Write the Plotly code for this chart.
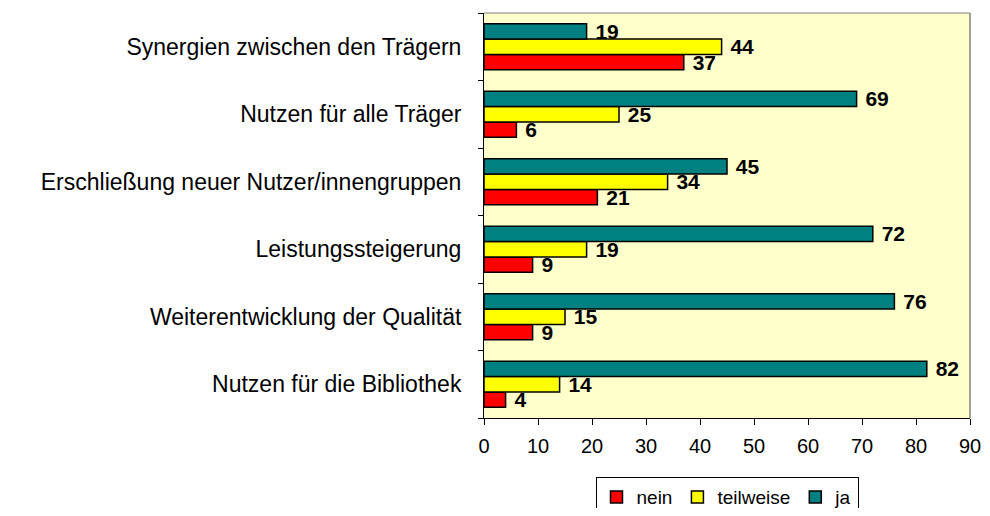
import plotly.graph_objects as go

categories = [
    "Nutzen für die Bibliothek",
    "Weiterentwicklung der Qualität",
    "Leistungssteigerung",
    "Erschließung neuer Nutzer/innengruppen",
    "Nutzen für alle Träger",
    "Synergien zwischen den Trägern",
]
nein = [4, 9, 9, 21, 6, 37]
teilweise = [14, 15, 19, 34, 25, 44]
ja = [82, 76, 72, 45, 69, 19]

series = [("nein", nein, "#FF0000"), ("teilweise", teilweise, "#FFFF00"), ("ja", ja, "#008080")]
x_ticks = list(range(0, 91, 10))

FONT = "Arial, 'Liberation Sans', sans-serif"

fig = go.Figure()
for name, vals, col in series:
    fig.add_trace(go.Bar(
        y=categories, x=vals, name=name, orientation="h",
        marker=dict(color=col, line=dict(color="black", width=1.5)),
        text=vals, texttemplate="\u00a0%{x}", textposition="outside",
        cliponaxis=False, constraintext="none",
        textfont=dict(family=FONT, size=21, color="black", weight="bold"),
    ))

# page body has an 8px margin: figure is 974x500 so that it fills the 990x516 window
fig.update_layout(
    width=974, height=500,
    margin=dict(l=476, r=12, t=5, b=90, autoexpand=False),
    paper_bgcolor="white", plot_bgcolor="#FFFFCC",
    barmode="group", bargap=0.32, bargroupgap=0,
    font=dict(family=FONT, color="black"),
    showlegend=True,
    legend=dict(orientation="h", x=0.5, xanchor="center", y=-0.146, yanchor="top",
                bordercolor="black", borderwidth=1, bgcolor="white",
                font=dict(size=19, family=FONT), traceorder="normal", itemwidth=30),
    xaxis=dict(range=[0, 90], tickvals=x_ticks, showgrid=False, zeroline=False,
               showline=True, linecolor="black", linewidth=1,
               ticks="outside", ticklen=6, tickcolor="black", ticklabelstandoff=4,
               tickfont=dict(size=20, family=FONT)),
    yaxis=dict(showgrid=False, zeroline=False, showline=True, linecolor="black", linewidth=1,
               ticks="outside", ticklen=5, tickcolor="black", tickson="boundaries",
               ticklabelstandoff=17,
               tickfont=dict(size=23, family=FONT)),
    shapes=[dict(type="line", xref="paper", yref="paper", x0=0, x1=1, y0=1, y1=1,
                 line=dict(color="#808080", width=1)),
            dict(type="line", xref="paper", yref="paper", x0=1, x1=1, y0=0, y1=1,
                 line=dict(color="#808080", width=1.5))],
)

fig.write_html("out.html")
